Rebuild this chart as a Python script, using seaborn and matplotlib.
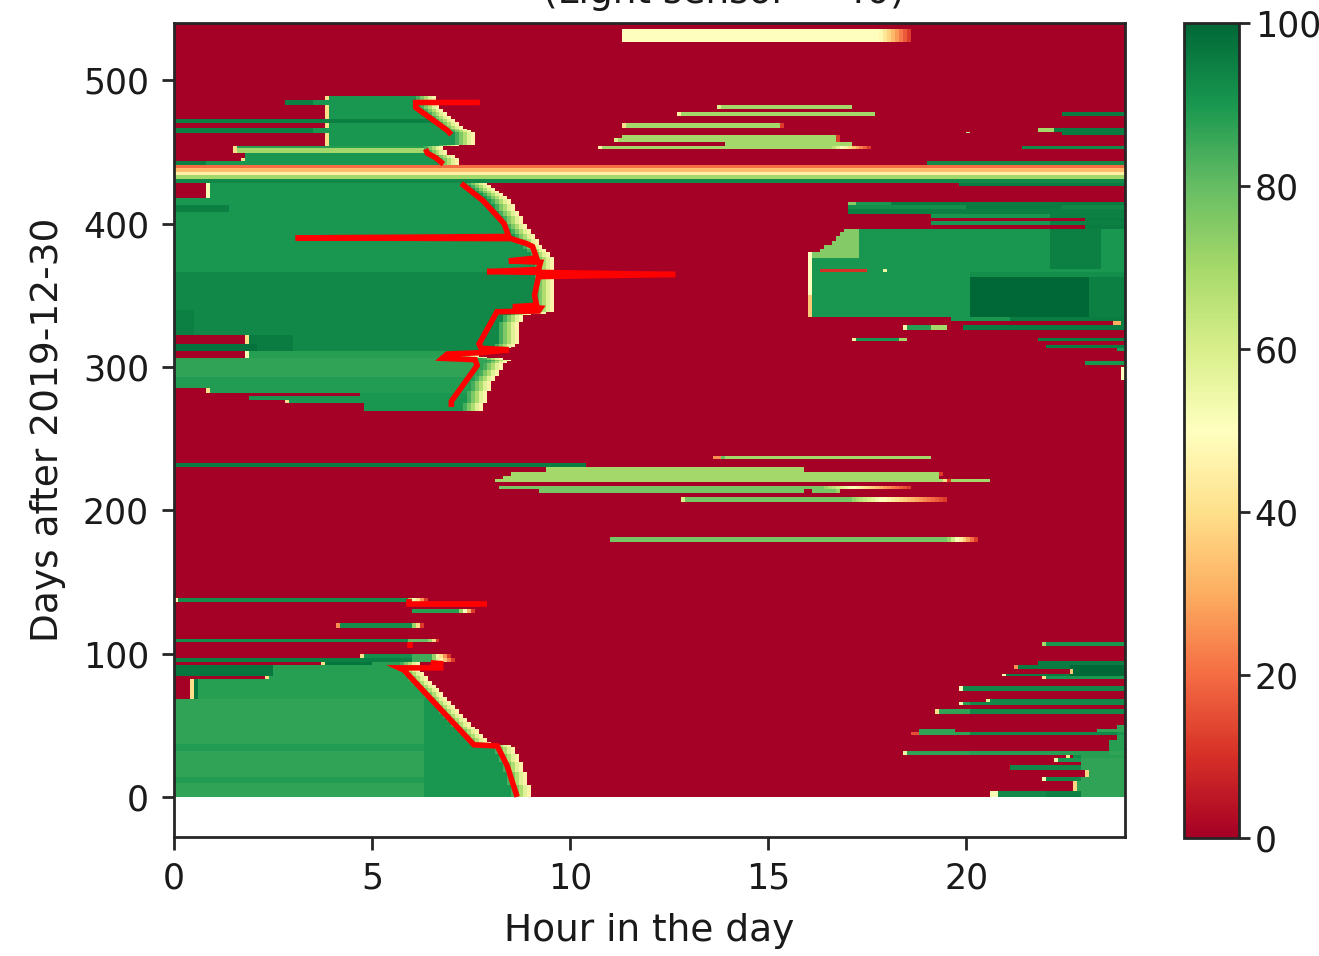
import numpy as np
import pandas as pd
import matplotlib
matplotlib.use("Agg")
import matplotlib.pyplot as plt
import seaborn as sns

# ---------------------------------------------------------------------------
# Grid: one row per day, one column per 6 minutes
# ---------------------------------------------------------------------------
CELL_H = 0.1
N_COLS = 240
N_DAYS = 540

# Fade applied past the sunrise edge of the morning blocks (0.1 h per step)
EDGE_FADE = [84, 76, 68, 58, 46]
# Fade used at the end of the afternoon strokes
TAIL_RAMP = [72, 62, 52, 44, 36, 28, 20, 12]

# ---- morning block, winter 2020 (first day, last day, start h, end h, level)
block_a_rows = [
    (0.0, 68.3, 0.0, 24, 87),
    (0.0, 68.3, 6.26, 24, 90),
    (32.0, 37.0, 0.0, 6.26, 89),
    (10.0, 14.0, 0.0, 6.26, 89),
    (68.3, 81.6, 0.44, 24, 88),
    (68.3, 81.6, 0.44, 0.56, 97),
    (81.6, 84.4, 2.35, 24, 88),
    (84.4, 91.8, 0.0, 24, 88),
    (84.4, 91.8, 0.0, 2.52, 97),
    (91.8, 94.2, 3.78, 24, 88),
    (91.8, 94.2, 3.78, 5.05, 97),
]
block_a_edge_day = [0, 21, 35.5, 36.5, 88.5, 94.2]
block_a_edge_hour = [8.55, 8.3, 8.05, 7.5, 5.7, 5.7]

# ---- morning block, winter 2020/21
block_b_rows = [
    (418.0, 428.3, 0.84, 24, 90),
    (366.0, 418.0, 0.0, 24, 90),
    (408.0, 413.0, 0.0, 1.35, 95),
    (340.0, 366.0, 0.0, 24, 93),
    (321.5, 340.0, 0.0, 24, 93),
    (321.5, 340.0, 0.0, 0.5, 95),
    (316.0, 321.5, 1.85, 24, 93),
    (316.0, 321.5, 1.9, 3.05, 96),
    (311.0, 316.0, 0.0, 24, 93),
    (311.0, 316.0, 0.0, 2.06, 98),
    (311.0, 316.0, 2.06, 3.05, 96),
    (305.5, 311.0, 1.85, 24, 88),
    (293.0, 305.5, 0.0, 24, 87),
    (285.0, 293.0, 0.0, 24, 89),
    (282.4, 285.0, 0.84, 24, 89),
    (279.6, 282.4, 4.67, 24, 90),
    (276.9, 279.6, 1.9, 24, 90),
    (274.8, 276.9, 2.85, 24, 90),
    (269.0, 274.8, 4.83, 24, 90),
]
block_b_edge_day = [269, 280, 290, 300, 303, 305, 307, 310, 312, 316, 322, 336,
                    338, 345, 360, 376, 385, 393, 400, 416, 428.3]
block_b_edge_hour = [7.3, 7.4, 7.55, 7.8, 7.85, 8.0, 7.2, 7.3, 7.9, 8.15, 8.15, 8.3,
                     9.1, 9.05, 9.1, 9.1, 8.75, 8.55, 8.35, 8.0, 7.4]

# ---- morning block, spring 2021
block_c_rows = [
    (441.4, 443.5, 0.0, 24, 90),
    (441.4, 443.5, 0.0, 0.84, 95),
    (443.5, 449.0, 1.8, 24, 90),
    (449.0, 454.0, 1.56, 24, 70),
    (453.0, 454.0, 1.56, 24, 88),
    (454.0, 463.0, 3.83, 24, 90),
    (463.0, 467.0, 0.0, 24, 90),
    (463.0, 467.0, 0.0, 3.49, 95),
    (467.0, 470.0, 3.83, 24, 90),
    (470.0, 472.6, 0.0, 24, 95),
    (472.6, 483.3, 3.83, 24, 90),
    (483.3, 485.5, 2.82, 24, 90),
    (483.3, 485.5, 2.82, 3.53, 95),
    (486.0, 488.8, 3.83, 24, 90),
]
block_c_edge_day = [441.4, 446, 449, 454, 455, 463, 467, 472, 481, 489]
block_c_edge_hour = [6.75, 6.7, 6.4, 6.3, 7.1, 7.1, 6.8, 6.6, 6.2, 6.1]

# ---- full-width transition band (first day, last day, level)
band_rows = [
    (438.6, 441.4, 20),
    (435.8, 438.6, 33),
    (433.7, 435.8, 45),
    (431.0, 433.7, 70),
    (428.2, 431.0, 93),
]

# ---- early-morning strokes (first day, last day, start h, end h, level, fade h)
morning_strokes = [
    (94.2, 97.0, 0.0, 6.05, 95, 0.0),
    (94.2, 97.0, 6.05, 6.5, 85, 0.6),
    (97.0, 99.7, 4.8, 6.05, 92, 0.0),
    (97.0, 99.7, 6.05, 6.5, 85, 0.5),
    (107.6, 110.2, 0.0, 5.93, 92, 0.0),
    (107.6, 110.2, 5.93, 6.4, 80, 0.3),
    (118.0, 120.6, 4.2, 6.05, 92, 0.3),
    (128.0, 131.0, 6.05, 7.2, 88, 0.4),
    (136.5, 138.8, 0.1, 5.93, 92, 0.5),
]

# ---- afternoon strokes
afternoon_strokes = [
    (527.0, 536.2, 11.3, 17.38, 50, 1.2),
    (480.5, 483.0, 13.8, 17.0, 70, 0.1),
    (475.0, 478.0, 12.8, 17.56, 70, 0.1),
    (467.0, 470.0, 11.45, 15.25, 70, 0.1),
    (459.5, 462.3, 11.27, 16.65, 70, 0.1),
    (456.7, 459.5, 11.18, 16.65, 70, 0.1),
    (454.0, 456.7, 13.9, 16.98, 70, 0.1),
    (452.0, 454.0, 10.82, 16.48, 70, 1.1),
    (230.0, 232.7, 0.0, 10.43, 96, 0.0),
    (235.5, 238.0, 13.75, 13.9, 80, 0.0),
    (235.5, 238.0, 13.9, 19.0, 70, 0.1),
    (227.3, 230.0, 9.42, 15.85, 70, 0.1),
    (224.5, 227.3, 8.5, 19.2, 70, 0.2),
    (222.0, 224.5, 8.33, 19.2, 70, 0.1),
    (219.7, 222.5, 8.12, 19.28, 70, 0.3),
    (219.7, 222.5, 19.6, 20.5, 70, 0.1),
    (215.0, 217.0, 8.16, 16.4, 77, 2.25),
    (212.0, 215.0, 9.25, 15.9, 77, 0.0),
    (212.0, 215.0, 16.1, 16.7, 77, 0.1),
    (206.4, 209.2, 12.9, 17.1, 77, 2.35),
    (177.8, 180.6, 11.05, 19.5, 77, 0.8),
]

# ---- evening block, winter 2020/21 (first day, last day, start h, end h, level)
evening_segments = [
    (425.5, 428.3, 19.78, 24, 96),
    (413.0, 415.0, 16.96, 17.16, 75),
    (413.0, 415.0, 17.16, 18.1, 90),
    (413.0, 415.0, 18.1, 24, 96),
    (410.0, 413.0, 16.96, 20.0, 92),
    (410.0, 413.0, 20.0, 22.4, 96),
    (410.0, 413.0, 22.4, 24, 93),
    (407.0, 410.0, 16.96, 24, 95),
    (404.5, 407.0, 19.15, 22.15, 90),
    (404.5, 407.0, 22.15, 24, 95),
    (402.0, 404.5, 22.96, 24, 96),
    (399.0, 402.0, 19.15, 22.15, 90),
    (399.0, 402.0, 22.15, 24, 95),
    (396.4, 399.0, 22.96, 24, 96),
    (393.6, 396.4, 16.95, 17.32, 75),
    (390.8, 393.6, 16.8, 17.32, 75),
    (388.0, 390.8, 16.7, 17.32, 75),
    (385.3, 388.0, 16.55, 17.32, 75),
    (382.5, 385.3, 16.4, 17.32, 75),
    (380.0, 382.5, 16.3, 17.32, 75),
    (376.0, 380.0, 16.1, 17.32, 75),
    (376.0, 396.4, 17.32, 22.15, 90),
    (335.0, 376.0, 16.1, 24, 90),
    (368.0, 396.4, 22.15, 23.4, 95),
    (368.0, 396.4, 23.4, 24, 90),
    (335.0, 363.0, 20.12, 23.14, 100),
    (335.0, 363.0, 23.14, 24, 95),
    (363.0, 365.5, 20.12, 24, 92),
    (365.6, 368.0, 16.3, 17.5, 10),
    (365.6, 368.0, 17.9, 18.05, 55),
    (350.0, 380.5, 16.0, 16.1, 50),
    (335.0, 350.0, 16.0, 16.1, 35),
    (332.0, 335.0, 19.6, 21.15, 90),
    (332.0, 335.0, 21.15, 24, 96),
    (329.0, 332.0, 23.67, 23.9, 30),
    (329.0, 332.0, 23.9, 24, 96),
    (326.4, 329.0, 18.45, 19.1, 88),
    (326.4, 329.0, 19.1, 19.5, 70),
    (326.4, 329.0, 19.86, 24, 96),
    (318.0, 320.5, 17.2, 18.27, 90),
    (318.0, 320.5, 18.27, 18.5, 70),
    (318.0, 320.5, 21.75, 21.85, 72),
    (318.0, 320.5, 21.85, 24, 95),
    (313.0, 314.8, 22.0, 24, 96),
    (311.0, 313.0, 23.8, 24, 90),
    (300.7, 303.5, 23.0, 24, 90),
    (291.0, 300.0, 23.9, 24, 50),
    # spring 2021
    (441.4, 443.5, 18.97, 24, 93),
    (452.0, 454.0, 21.4, 24, 93),
    (462.0, 464.5, 22.35, 24, 96),
    (463.0, 464.5, 20.05, 20.15, 65),
    (464.5, 467.3, 21.75, 22.2, 70),
    (464.5, 467.3, 22.2, 24, 96),
    (475.0, 478.0, 22.4, 24, 96),
    # winter 2020
    (105.3, 107.6, 22.03, 24, 90),
    (92.0, 94.8, 21.85, 24, 96),
    (89.3, 92.0, 21.3, 24, 96),
    (89.3, 92.0, 22.6, 24, 100),
    (86.5, 89.3, 22.67, 24, 100),
    (84.4, 86.5, 21.03, 24, 96),
    (84.4, 86.5, 22.6, 24, 100),
    (81.6, 84.4, 22.03, 24, 90),
    (74.0, 76.7, 19.86, 24, 93),
    (66.0, 68.3, 20.57, 24, 93),
    (63.5, 66.0, 19.93, 20.1, 88),
    (63.5, 66.0, 20.1, 24, 93),
    (58.0, 60.7, 19.3, 20.1, 87),
    (58.0, 60.7, 20.1, 24, 93),
    (47.4, 50.2, 23.77, 24, 87),
    (45.4, 47.4, 18.85, 19.7, 87),
    (45.4, 47.4, 23.3, 24, 87),
    (42.6, 45.4, 18.85, 20.1, 87),
    (42.6, 45.4, 20.1, 23.77, 93),
    (42.6, 45.4, 23.77, 24, 90),
    (39.7, 42.6, 23.77, 24, 88),
    (32.0, 39.7, 23.57, 24, 88),
    (29.3, 32.0, 18.5, 20.1, 87),
    (29.3, 32.0, 20.1, 23.6, 88),
    (29.3, 32.0, 23.6, 24, 87),
    (27.0, 29.3, 22.67, 22.94, 93),
    (27.0, 29.3, 22.94, 24, 88),
    (23.9, 27.0, 22.33, 22.94, 90),
    (23.9, 27.0, 22.94, 24, 87),
    (21.6, 23.9, 22.94, 24, 87),
    (18.8, 21.6, 21.13, 22.94, 93),
    (18.8, 21.6, 22.94, 24, 87),
    (14.2, 18.8, 23.13, 24, 87),
    (11.4, 14.2, 22.03, 22.94, 93),
    (11.4, 14.2, 22.94, 24, 87),
    (3.5, 11.4, 22.84, 24, 87),
    (0.0, 3.5, 20.75, 21.96, 93),
    (0.0, 3.5, 21.96, 22.94, 95),
    (0.0, 3.5, 22.94, 24, 87),
]

# ---- switch-on cells at the start of strokes (first day, last day, hour, level)
start_cells = [
    (105.3, 107.6, 21.93, 70), (92.0, 94.8, 21.75, 52), (89.3, 92.0, 21.2, 25),
    (86.5, 89.3, 22.57, 35), (84.4, 86.5, 20.93, 52), (81.6, 84.4, 21.93, 40),
    (74.0, 76.7, 19.76, 52), (66.0, 68.3, 20.47, 58), (63.5, 66.0, 19.83, 52),
    (58.0, 60.7, 19.2, 40), (45.4, 47.4, 18.75, 25), (42.6, 45.4, 18.65, 15),
    (29.3, 32.0, 18.4, 55), (27.0, 29.3, 22.5, 40), (23.9, 27.0, 22.24, 55),
    (14.2, 18.8, 23.03, 38), (11.4, 14.2, 21.93, 52), (3.5, 11.4, 22.74, 38),
    (0.0, 3.5, 20.65, 52), (326.4, 329.0, 18.35, 45), (318.0, 320.5, 17.1, 45),
    (136.5, 138.8, 0.0, 52), (128.0, 131.0, 5.95, 55), (118.0, 120.6, 4.1, 25),
    (97.0, 99.7, 4.7, 40), (91.8, 94.2, 3.7, 40), (81.6, 84.4, 2.28, 40),
    (68.3, 81.6, 0.36, 40), (418.0, 428.3, 0.76, 52), (316.0, 321.5, 1.78, 40),
    (305.5, 311.0, 1.78, 52), (282.4, 285.0, 0.76, 40), (274.8, 276.9, 2.78, 40),
    (269.0, 274.8, 4.75, 40), (449.0, 454.0, 1.48, 40), (443.5, 446.0, 1.74, 40),
    (467.0, 470.0, 3.76, 40), (454.0, 463.0, 3.76, 40), (472.6, 483.3, 3.76, 40),
    (486.0, 488.8, 3.76, 40), (480.5, 483.0, 13.7, 60), (475.0, 478.0, 12.7, 45),
    (467.0, 470.0, 11.35, 40), (456.7, 459.5, 11.08, 60), (452.0, 454.0, 10.72, 45),
    (235.5, 238.0, 13.65, 25), (206.4, 209.2, 12.8, 60),
]

# ---- sunrise line (hour, day), one polyline per stretch
sun_lines = [
    ([8.66, 8.41, 8.16, 7.57, 5.8, 5.68, 6.73, 6.73, 6.48],
     [0, 21.6, 35.5, 36.3, 88.5, 90, 90, 93, 93.5]),
    ([5.93, 5.93, 7.9], [138, 134.5, 134.5]),
    ([5.95, 5.95], [108, 104]),
    ([7.0, 7.0, 7.65, 7.6, 6.77, 6.9, 7.8, 8.45, 7.75, 7.7, 8.1, 8.15, 9.2, 9.25,
      8.55, 9.15, 9.1, 9.2, 12.65, 7.9, 9.2, 9.25, 8.45, 9.15, 9.05, 8.9, 8.5,
      3.07, 8.45, 8.33, 7.8, 7.25],
     [272, 276, 301, 305, 306, 309, 310, 312, 313, 316, 336, 338.5, 339, 341,
      342, 343, 350, 363, 364.5, 366.5, 368, 373, 374, 376, 384, 386, 389.5,
      390, 391, 400, 416, 428]),
    ([6.35, 6.4, 6.6, 6.8], [452, 449, 446, 441.5]),
    ([7.0, 6.9, 6.6, 6.1, 6.1, 7.72], [462, 465, 471, 481, 484.5, 484.5]),
]


# ---------------------------------------------------------------------------
grid = np.zeros((N_DAYS, N_COLS))


def col(h):
    return int(round(h / CELL_H))


def row(d):
    return int(round(d))


def paint(d0, d1, h0, h1, v):
    grid[row(d0):row(d1), col(h0):col(h1)] = v


def paint_tail(d0, d1, h_start, length, v):
    c0 = col(h_start)
    n = col(h_start + length) - c0
    if n <= 0:
        return
    pos = np.linspace(0, len(TAIL_RAMP) - 1, n)
    vals = np.minimum(np.interp(pos, np.arange(len(TAIL_RAMP)), TAIL_RAMP), v)
    grid[row(d0):row(d1), c0:c0 + n] = vals


def paint_block(rows, edge_day, edge_hour):
    for d0, d1, h0, h1, v in rows:
        for d in range(row(d0), row(d1)):
            e = np.interp(d + 0.5, edge_day, edge_hour)
            end = min(h1, e)
            grid[d, col(h0):col(end)] = v
            if h1 >= e:
                c = col(e)
                grid[d, c:c + len(EDGE_FADE)] = EDGE_FADE


paint_block(block_a_rows, block_a_edge_day, block_a_edge_hour)
paint_block(block_b_rows, block_b_edge_day, block_b_edge_hour)
paint_block(block_c_rows, block_c_edge_day, block_c_edge_hour)

for d0, d1, h0, h1, v, tail in morning_strokes + afternoon_strokes:
    paint(d0, d1, h0, h1, v)
    paint_tail(d0, d1, h1, tail, v)

for d0, d1, h0, h1, v in evening_segments:
    paint(d0, d1, h0, h1, v)

for d0, d1, h, v in start_cells:
    paint(d0, d1, h, h + CELL_H, v)

for d0, d1, v in band_rows:
    paint(d0, d1, 0, 24, v)

# ---------------------------------------------------------------------------
sns.set_style("ticks")
plt.rcParams["font.family"] = ["DejaVu Sans"]
plt.rcParams["axes.linewidth"] = 2.0

fig = plt.figure(figsize=(13.19, 9.56), dpi=100)
ax = fig.add_axes([0.1319, 0.1245, 0.721, 0.8515])
cax = fig.add_axes([0.898, 0.1234, 0.0417, 0.8525])

frame = pd.DataFrame(grid)
sns.heatmap(frame, ax=ax, cbar_ax=cax, cmap="RdYlGn", vmin=0, vmax=100,
            xticklabels=False, yticklabels=False, rasterized=True)

for hours, days in sun_lines:
    ax.plot(np.asarray(hours) / CELL_H, days, color="red", lw=4,
            solid_joinstyle="miter", solid_capstyle="butt")

ax.set_xlim(0, N_COLS)
ax.set_ylim(-28, N_DAYS)
hour_ticks = [0, 5, 10, 15, 20]
day_ticks = [0, 100, 200, 300, 400, 500]
ax.set_xticks([h / CELL_H for h in hour_ticks])
ax.set_xticklabels([str(h) for h in hour_ticks])
ax.set_yticks(day_ticks)
ax.set_yticklabels([str(d) for d in day_ticks], rotation=0)
for s in ax.spines.values():
    s.set_visible(True)
    s.set_linewidth(2.0)
    s.set_color("#262626")
ax.tick_params(axis="both", which="major", direction="out", length=9, width=2,
               color="#262626", labelsize=25, labelcolor="#1a1a1a", pad=9)
ax.set_xlabel("Hour in the day", fontsize=27, color="#1a1a1a", labelpad=12)
ax.set_ylabel("Days after 2019-12-30", fontsize=27, color="#1a1a1a", labelpad=12)

cb = ax.collections[0].colorbar
cb.set_ticks([0, 20, 40, 60, 80, 100])
cb.outline.set_visible(True)
cb.outline.set_linewidth(2.0)
cb.outline.set_edgecolor("#262626")
cax.tick_params(direction="out", length=8, width=2, color="#262626",
                labelsize=25, labelcolor="#1a1a1a", pad=3)

fig.text(0.549, 0.9969, "(Light sensor = 40)", ha="center", va="baseline",
         fontsize=27, color="#1a1a1a")

fig.savefig("out.png", dpi=100)
